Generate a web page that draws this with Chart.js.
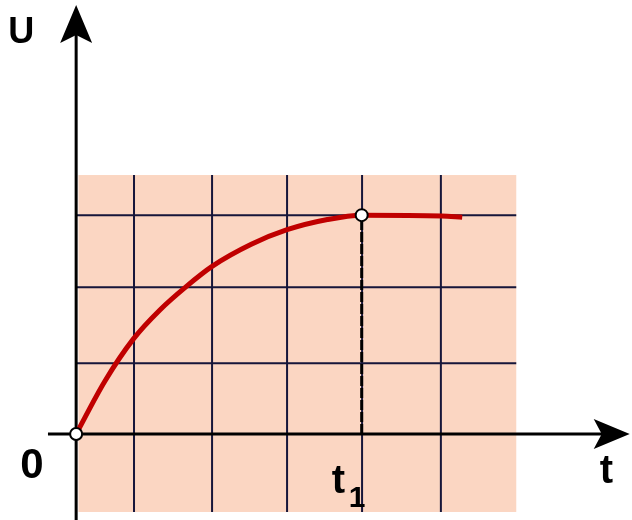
<!DOCTYPE html>
<html>
<head>
<meta charset="utf-8">
<script src="https://cdn.jsdelivr.net/npm/chart.js@4"></script>
<style>
  body { margin: 0; background: #fff; }
  canvas { display: block; }
</style>
</head>
<body>
<canvas id="chargeChart" width="632" height="520"></canvas>
<script>
// courbe u(t) (unités de grille)
const tValues = [0, 0.375, 0.75, 1.1, 1.445, 1.79, 2.3, 2.77, 3.3, 3.75, 4.8, 5.07];
const uValues = [0, 0.72, 1.30, 1.70, 2.02, 2.30, 2.60, 2.80, 2.94, 3.0, 2.99, 2.97];

// lignes du quadrillage
const tGrid = [0.76, 1.785, 2.77, 3.755, 4.79];
const uGrid = [0.97, 2.01, 3.0];

// instant t1 et valeur atteinte
const t1 = 3.75;
const uMax = 3.0;

// bornes des axes et de la zone colorée
const xRange = [-1, 7.3];
const yRange = [-1.18, 5.95];
const shadeT = [0.03, 5.78];
const shadeU = [-1.07, 3.55];
const axisT = [-0.37, 7.27];
const axisU = [yRange[0], 5.88];

const decorPlugin = {
    id: 'decor',
    beforeDatasetsDraw(chart) {
        const ctx = chart.ctx;
        const xs = chart.scales.x;
        const ys = chart.scales.y;
        const px = v => xs.getPixelForValue(v);
        const py = v => ys.getPixelForValue(v);

        ctx.save();
        // fond rose
        ctx.fillStyle = '#fbd6c2';
        ctx.fillRect(px(shadeT[0]), py(shadeU[1]), px(shadeT[1]) - px(shadeT[0]), py(shadeU[0]) - py(shadeU[1]));

        // quadrillage
        ctx.strokeStyle = '#16163a';
        ctx.lineWidth = 2;
        ctx.beginPath();
        tGrid.forEach(t => {
            ctx.moveTo(px(t), py(shadeU[1]));
            ctx.lineTo(px(t), py(shadeU[0]));
        });
        uGrid.forEach(u => {
            ctx.moveTo(px(0), py(u));
            ctx.lineTo(px(shadeT[1]), py(u));
        });
        ctx.stroke();

        // axes
        ctx.strokeStyle = '#000';
        ctx.lineWidth = 3;
        ctx.beginPath();
        ctx.moveTo(px(0), py(axisU[0]));
        ctx.lineTo(px(0), py(axisU[1]) + 20);
        ctx.moveTo(px(axisT[0]), py(0));
        ctx.lineTo(px(axisT[1]) - 20, py(0));
        ctx.stroke();

        // flèches
        ctx.fillStyle = '#000';
        const ox = px(0), tipY = py(axisU[1]);
        ctx.beginPath();
        ctx.moveTo(ox, tipY);
        ctx.lineTo(ox + 16, tipY + 38);
        ctx.lineTo(ox, tipY + 30);
        ctx.lineTo(ox - 16, tipY + 38);
        ctx.closePath();
        ctx.fill();

        const oy = py(0), tipX = px(axisT[1]);
        ctx.beginPath();
        ctx.moveTo(tipX, oy);
        ctx.lineTo(tipX - 36, oy + 15);
        ctx.lineTo(tipX - 28, oy);
        ctx.lineTo(tipX - 36, oy - 15);
        ctx.closePath();
        ctx.fill();
        ctx.restore();
    },
    afterDraw(chart) {
        const ctx = chart.ctx;
        const xs = chart.scales.x;
        const ys = chart.scales.y;
        const ox = xs.getPixelForValue(0);
        const oy = ys.getPixelForValue(0);
        const tx = xs.getPixelForValue(t1);

        ctx.save();
        ctx.fillStyle = '#000';
        ctx.textBaseline = 'alphabetic';
        ctx.textAlign = 'left';
        ctx.font = 'bold 36px "Liberation Sans", Arial, sans-serif';
        ctx.fillText('U', ox - 68, ys.getPixelForValue(axisU[1]) + 38);
        ctx.font = 'bold 42px "Liberation Sans", Arial, sans-serif';
        ctx.fillText('0', ox - 56, oy + 44);
        ctx.font = 'bold 40px "Liberation Sans", Arial, sans-serif';
        ctx.fillText('t', xs.getPixelForValue(axisT[1]) - 30, oy + 49);
        ctx.fillText('t', tx - 30, oy + 59);
        ctx.font = 'bold 30px "Liberation Sans", Arial, sans-serif';
        ctx.fillText('1', tx - 13, oy + 73);
        ctx.restore();
    }
};

const ctx = document.getElementById('chargeChart').getContext('2d');
const myChart = new Chart(ctx, {
    type: 'scatter',
    data: {
        datasets: [{
            // points remarquables
            data: [{ x: 0, y: 0 }, { x: t1, y: uMax }],
            showLine: false,
            pointRadius: 6,
            pointBackgroundColor: '#fff',
            pointBorderColor: '#000',
            pointBorderWidth: 2
        }, {
            data: tValues.map((t, i) => ({ x: t, y: uValues[i] })),
            showLine: true,
            borderColor: '#c00000',
            borderWidth: 5,
            cubicInterpolationMode: 'monotone',
            pointRadius: 0
        }, {
            data: [{ x: t1, y: 0 }, { x: t1, y: uMax }],
            showLine: true,
            borderColor: '#000',
            borderWidth: 3,
            borderDash: [10, 2],
            pointRadius: 0
        }]
    },
    options: {
        responsive: false,
        animation: false,
        layout: { padding: 0, autoPadding: false },
        plugins: {
            legend: { display: false },
            tooltip: { enabled: false }
        },
        scales: {
            x: { type: 'linear', min: xRange[0], max: xRange[1], display: false },
            y: { type: 'linear', min: yRange[0], max: yRange[1], display: false }
        }
    },
    plugins: [decorPlugin]
});
</script>
</body>
</html>
